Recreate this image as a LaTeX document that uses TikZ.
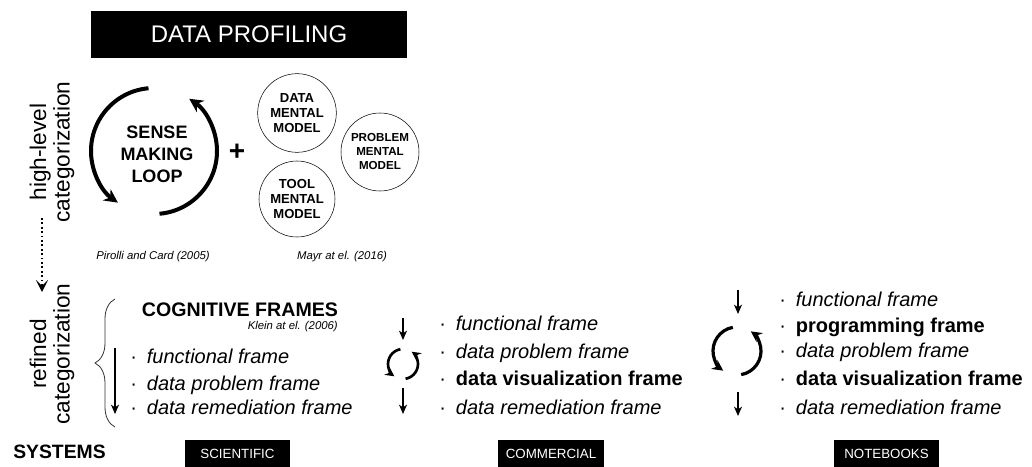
\documentclass[tikz,border=0pt]{standalone}
\usepackage{fontspec}
\setmainfont{Liberation Sans}
\usetikzlibrary{arrows.meta, positioning, decorations.pathreplacing}

\begin{document}
\begin{tikzpicture}[x=0.75pt, y=-0.75pt,
    blackbox/.style={fill=black, text=white, inner sep=0pt, font=\fontsize{10}{12}\selectfont},
    mental/.style={draw, circle, thin, inner sep=0pt, minimum size=#1, align=center, font=\fontsize{9.8}{11.3}\selectfont\bfseries},
    cite/.style={font=\fontsize{8.5}{10}\selectfont\itshape},
    vlabel/.style={rotate=90, align=center, font=\fontsize{17}{17.5}\selectfont},
    frameitem/.style={anchor=base west, inner sep=0pt, font=\fontsize{15}{18}\selectfont},
    looparc/.style={line width=#1, -{Stealth[length=3.4*#1, width=3.4*#1]}},
    downarr/.style={line width=1.1pt, -{Stealth[length=7pt, width=6pt, inset=2pt]}},
]

\useasboundingbox (0,0) rectangle (1032,467);

% Title
\node[blackbox, minimum width=237pt, minimum height=35.25pt, font=\fontsize{18}{20}\selectfont] (title) at (249,34.5) {DATA PROFILING};

% Side labels
\node[vlabel] (highlevel) at (52,152) {high-level\\categorization};
\node[vlabel] (refined) at (52,354) {refined\\categorization};
\coordinate (dotstart) at (42,218);
\coordinate (dotend) at (42,292);
\draw[line width=1.3pt, dotted, -{Stealth[length=9pt, width=9pt, inset=4.5pt]}] (dotstart) -- (dotend);

% Sense making loop
\node[align=center, font=\fontsize{13.5}{16.5}\selectfont\bfseries] (sml) at (157,154) {SENSE\\MAKING\\LOOP};
\coordinate (smc) at (154,151);
\draw[looparc=3pt] ([shift={(95:47.25pt)}]smc) arc[start angle=95, end angle=235, radius=47.25pt];
\draw[looparc=3pt] ([shift={(-85:47.25pt)}]smc) arc[start angle=-85, end angle=56, radius=47.25pt];

\node[font=\fontsize{21}{21}\selectfont\bfseries] (plus) at (237,152) {+};

% Mental models
\node[mental=59pt] (datamm) at (297,113) {DATA\\MENTAL\\MODEL};
\node[mental=57pt] (toolmm) at (297,199) {TOOL\\MENTAL\\MODEL};
\node[mental=58.5pt, font=\fontsize{8.7}{10.5}\selectfont\bfseries] (probmm) at (380,152) {PROBLEM\\MENTAL\\MODEL};

% References
\node[cite] (pirolli) at (153,257) {Pirolli and Card (2005)};
\node[cite] (mayr) at (342,257) {Mayr at el. (2016)};

% Cognitive frames
\node[font=\fontsize{14.7}{16}\selectfont\bfseries] (cogframes) at (240,310) {COGNITIVE FRAMES};
\node[cite, anchor=east, inner sep=0pt] (klein) at (338,327) {Klein at el. (2006)};
\draw[decorate, decoration={brace, amplitude=15pt, aspect=0.5}, semithick, black!80] (115,427) -- (115,299);

% Scientific
\coordinate (scitop) at (115,348);
\coordinate (scibot) at (115,414);
\draw[downarr] (scitop) -- (scibot);
\node[frameitem] (sci1) at (130,363) {·\enspace\textit{functional frame}};
\node[frameitem] (sci2) at (130,390) {·\enspace\textit{data problem frame}};
\node[frameitem] (sci3) at (130,414) {·\enspace\textit{data remediation frame}};

% Commercial
\coordinate (comtop) at (403,318);
\coordinate (commid) at (403,340);
\draw[downarr] (comtop) -- (commid);
\coordinate (comc) at (403,364);
\draw[looparc=2pt] ([shift={(100:11.25pt)}]comc) arc[start angle=100, end angle=235, radius=11.25pt];
\draw[looparc=2pt] ([shift={(-80:11.25pt)}]comc) arc[start angle=-80, end angle=55, radius=11.25pt];
\coordinate (comlow) at (403,388);
\coordinate (combot) at (403,414);
\draw[downarr] (comlow) -- (combot);
\node[frameitem] (com1) at (439,330) {·\enspace\textit{functional frame}};
\node[frameitem] (com2) at (439,358) {·\enspace\textit{data problem frame}};
\node[frameitem] (com3) at (439,385) {·\enspace\textbf{data visualization frame}};
\node[frameitem] (com4) at (439,414) {·\enspace\textit{data remediation frame}};

% Notebooks
\coordinate (nbtop) at (738,290);
\coordinate (nbmid) at (738,314);
\draw[downarr] (nbtop) -- (nbmid);
\coordinate (nbc) at (737,351);
\draw[looparc=2.4pt] ([shift={(100:18pt)}]nbc) arc[start angle=100, end angle=235, radius=18pt];
\draw[looparc=2.4pt] ([shift={(-80:18pt)}]nbc) arc[start angle=-80, end angle=55, radius=18pt];
\coordinate (nblow) at (738,392);
\coordinate (nbbot) at (738,416);
\draw[downarr] (nblow) -- (nbbot);
\node[frameitem] (nb1) at (779,306) {·\enspace\textit{functional frame}};
\node[frameitem] (nb2) at (779,332) {·\enspace\textbf{programming frame}};
\node[frameitem] (nb3) at (779,357) {·\enspace\textit{data problem frame}};
\node[frameitem] (nb4) at (779,385) {·\enspace\textbf{data visualization frame}};
\node[frameitem] (nb5) at (779,414) {·\enspace\textit{data remediation frame}};

% Systems
\node[anchor=west, inner sep=0pt, font=\fontsize{14.5}{16}\selectfont\bfseries] (systems) at (13,452) {SYSTEMS};
\node[blackbox, minimum width=78.75pt, minimum height=20pt] (scientific) at (237.5,453.5) {SCIENTIFIC};
\node[blackbox, minimum width=79.5pt, minimum height=20pt] (commercial) at (551,453.5) {COMMERCIAL};
\node[blackbox, minimum width=78.75pt, minimum height=20pt] (notebooks) at (886.5,453.5) {NOTEBOOKS};

\end{tikzpicture}
\end{document}
